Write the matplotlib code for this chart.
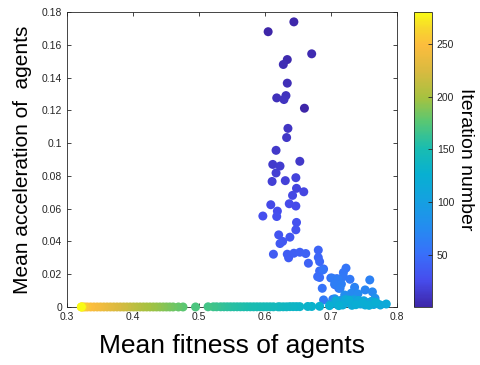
import matplotlib
matplotlib.use("Agg")
import matplotlib.pyplot as plt
from matplotlib.colors import LinearSegmentedColormap
import numpy as np

plt.rcParams['font.family'] = ['Liberation Sans', 'DejaVu Sans']

# upper points: fitness, acceleration, iteration
up_fit = [0.644, 0.605, 0.671, 0.634, 0.628, 0.634, 0.632, 0.618, 0.629, 0.660,
          0.635, 0.633, 0.617, 0.653, 0.612, 0.623, 0.617, 0.611, 0.631, 0.647,
          0.648, 0.659, 0.642, 0.609, 0.637, 0.647, 0.619, 0.597, 0.618, 0.648,
          0.647, 0.621, 0.638, 0.627, 0.623, 0.613, 0.634, 0.636, 0.644, 0.653,
          0.662, 0.666, 0.681, 0.681, 0.683, 0.689, 0.683, 0.680, 0.683, 0.700,
          0.709, 0.706, 0.712, 0.687, 0.688, 0.723, 0.719, 0.719, 0.729, 0.689,
          0.702, 0.703, 0.711, 0.706, 0.716, 0.714, 0.759, 0.736, 0.752, 0.763,
          0.731, 0.741, 0.721, 0.706, 0.767]
up_acc = [0.1740, 0.1680, 0.1545, 0.1510, 0.1480, 0.1366, 0.1290, 0.1276, 0.1266, 0.1213,
          0.1090, 0.1034, 0.0956, 0.0889, 0.0870, 0.0860, 0.0818, 0.0766, 0.0771, 0.0789,
          0.0724, 0.0703, 0.0681, 0.0624, 0.0630, 0.0616, 0.0585, 0.0555, 0.0552, 0.0516,
          0.0471, 0.0440, 0.0426, 0.0400, 0.0387, 0.0322, 0.0322, 0.0300, 0.0328, 0.0334,
          0.0326, 0.0267, 0.0347, 0.0302, 0.0277, 0.0232, 0.0220, 0.0185, 0.0180, 0.0177,
          0.0173, 0.0136, 0.0114, 0.0114, 0.0226, 0.0237, 0.0210, 0.0185, 0.0169, 0.0043,
          0.0176, 0.0047, 0.0169, 0.0140, 0.0140, 0.0114, 0.0165, 0.0120, 0.0104, 0.0092,
          0.0084, 0.0080, 0.0073, 0.0050, 0.0053]
up_iter = [3, 1, 5, 4, 6, 7, 9, 8, 10, 2,
           11, 12, 13, 14, 15, 16, 17, 18, 19, 20,
           21, 22, 23, 24, 25, 26, 27, 28, 29, 30,
           31, 32, 33, 34, 35, 36, 37, 38, 39, 40,
           41, 42, 43, 44, 45, 46, 47, 48, 49, 50,
           51, 52, 53, 54, 55, 56, 57, 58, 59, 60,
           61, 62, 63, 64, 65, 66, 67, 68, 70, 72,
           74, 76, 78, 80, 82]

# cyan cluster just above zero
cy_fit = [0.700, 0.705, 0.710, 0.715, 0.720, 0.725, 0.730, 0.735, 0.740, 0.745,
          0.750, 0.755, 0.760, 0.765, 0.770, 0.775, 0.784, 0.708, 0.718, 0.728,
          0.738, 0.748, 0.758, 0.768, 0.712, 0.732, 0.752, 0.742, 0.722, 0.762]
cy_acc = [0.0020, 0.0030, 0.0015, 0.0040, 0.0025, 0.0035, 0.0020, 0.0045, 0.0030, 0.0018,
          0.0038, 0.0025, 0.0030, 0.0015, 0.0022, 0.0012, 0.0018, 0.0038, 0.0012, 0.0042,
          0.0014, 0.0026, 0.0010, 0.0028, 0.0008, 0.0010, 0.0012, 0.0040, 0.0046, 0.0034]
cy_iter = [84, 86, 88, 90, 92, 94, 96, 98, 100, 102,
           104, 106, 108, 110, 112, 114, 116, 118, 119, 120,
           121, 122, 123, 124, 125, 117, 115, 113, 111, 109]

# points lying on zero acceleration
lo_fit = [0.698, 0.683, 0.671, 0.665, 0.653, 0.648, 0.643, 0.638, 0.633, 0.628,
          0.623, 0.620, 0.613, 0.608, 0.603, 0.598, 0.593, 0.588, 0.583, 0.578,
          0.573, 0.568, 0.563, 0.558, 0.553, 0.548, 0.543, 0.538, 0.533, 0.527,
          0.522, 0.514, 0.495, 0.476, 0.469, 0.461, 0.456, 0.451, 0.446, 0.441,
          0.436, 0.431, 0.426, 0.421, 0.416, 0.411, 0.406, 0.401, 0.396, 0.391,
          0.386, 0.381, 0.376, 0.371, 0.366, 0.361, 0.356, 0.351, 0.346, 0.341,
          0.336, 0.331, 0.327, 0.324, 0.322, 0.322]
lo_acc = [0.0008, 0.0004, 0.0003, 0.0003, 0.0002, 0.0002, 0.0002, 0.0002, 0.0001, 0.0001,
          0.0001, 0.0001, 0.0001, 0.0001, 0.0001, 0.0001, 0.0001, 0.0001, 0.0001, 0.0001,
          0.0001, 0.0001, 0.0001, 0.0001, 0.0001, 0.0001, 0.0001, 0.0001, 0.0001, 0.0001,
          0.0001, 0.0001, 0.0, 0.0, 0.0, 0.0, 0.0, 0.0, 0.0, 0.0,
          0.0, 0.0, 0.0, 0.0, 0.0, 0.0, 0.0, 0.0, 0.0, 0.0,
          0.0, 0.0, 0.0, 0.0, 0.0, 0.0, 0.0, 0.0, 0.0, 0.0,
          0.0, 0.0, 0.0, 0.0, 0.0, 0.0]
lo_iter = [126, 128, 130, 132, 134, 135, 136, 137, 138, 139,
           140, 141, 143, 144, 146, 147, 148, 149, 150, 151,
           152, 153, 154, 155, 156, 157, 158, 160, 162, 164,
           166, 168, 172, 177, 180, 183, 185, 187, 189, 191,
           193, 195, 197, 199, 201, 203, 206, 209, 212, 215,
           218, 221, 224, 227, 230, 233, 236, 239, 242, 245,
           248, 252, 256, 262, 270, 280]

x_ticks = [0.3, 0.4, 0.5, 0.6, 0.7, 0.8]
y_ticks = [0, 0.02, 0.04, 0.06, 0.08, 0.1, 0.12, 0.14, 0.16, 0.18]
y_labels = ['0', '0.02', '0.04', '0.06', '0.08', '0.1', '0.12', '0.14', '0.16', '0.18']
cb_ticks = [50, 100, 150, 200, 250]

# parula-like colormap (anchors picked from the reference colorbar)
parula = LinearSegmentedColormap.from_list('parula', [
    (0.00, (0.242, 0.150, 0.660)),
    (0.09, (0.275, 0.300, 0.930)),
    (0.18, (0.220, 0.440, 0.980)),
    (0.27, (0.140, 0.550, 0.940)),
    (0.36, (0.080, 0.630, 0.880)),
    (0.45, (0.030, 0.690, 0.820)),
    (0.54, (0.100, 0.740, 0.690)),
    (0.63, (0.350, 0.780, 0.450)),
    (0.71, (0.650, 0.760, 0.250)),
    (0.80, (0.850, 0.730, 0.250)),
    (0.89, (0.990, 0.740, 0.240)),
    (0.95, (0.970, 0.850, 0.170)),
    (1.00, (0.977, 0.984, 0.080))])

fit = np.array(up_fit + cy_fit + lo_fit)
acc = np.array(up_acc + cy_acc + lo_acc)
it = np.array(up_iter + cy_iter + lo_iter)
order = np.argsort(it)

fig = plt.figure(figsize=(4.81, 3.65), dpi=100)
ax = fig.add_axes([0.139, 0.159, 0.686, 0.808])
sc = ax.scatter(fit[order], acc[order], c=it[order], cmap=parula, vmin=1, vmax=280,
                s=42, edgecolors='none', clip_on=False, zorder=3)
ax.set_xlim(0.3, 0.8)
ax.set_ylim(0, 0.18)
ax.set_xticks(x_ticks)
ax.set_xticklabels([str(v) for v in x_ticks])
ax.set_yticks(y_ticks)
ax.set_yticklabels(y_labels)
ax.tick_params(direction='in', length=3, width=0.6, labelsize=7.5, colors='#262626',
               top=True, right=True)
for sp in ax.spines.values():
    sp.set_color('#262626')
    sp.set_linewidth(0.6)
ax.set_xlabel('Mean fitness of agents', fontsize=19, labelpad=9)
ax.set_ylabel('Mean acceleration of  agents', fontsize=15, labelpad=7)

cax = fig.add_axes([0.861, 0.159, 0.037, 0.808])
cb = fig.colorbar(sc, cax=cax, ticks=cb_ticks)
cb.outline.set_linewidth(0.6)
cb.outline.set_edgecolor('#262626')
cax.tick_params(direction='in', length=3, width=0.6, labelsize=7.5, colors='#262626')
cb.set_label('Iteration number', fontsize=14, rotation=270, labelpad=14)

fig.savefig('out.png', dpi=100)
